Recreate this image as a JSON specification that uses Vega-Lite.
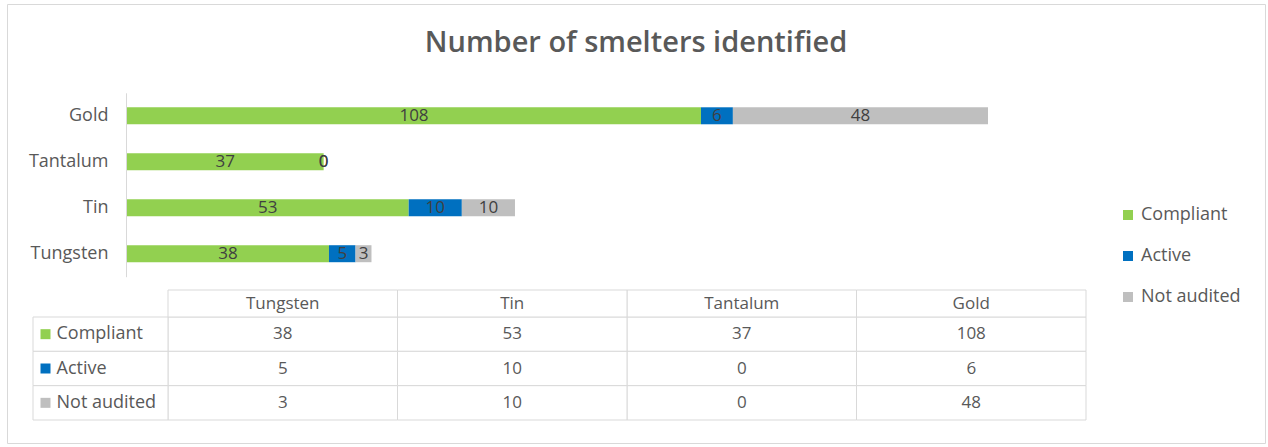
{
  "$schema": "https://vega.github.io/schema/vega-lite/v6.json",
  "width": 1258,
  "height": 439,
  "autosize": {"type": "none"},
  "padding": {"left": 7, "top": 4, "right": 3, "bottom": 4},
  "background": "white",
  "title": {
    "text": "Number of smelters identified",
    "anchor": "middle",
    "offset": -77,
    "baseline": "alphabetic",
    "font": "Open Sans",
    "fontSize": 29,
    "fontWeight": 600,
    "color": "#595959"
  },
  "config": {
    "view": {"stroke": "#d9d9d9"},
    "font": "Open Sans",
    "legend": {
      "orient": "none",
      "legendX": 1112,
      "legendY": 202,
      "symbolType": "square",
      "symbolSize": 100,
      "symbolStrokeWidth": 0,
      "labelFontSize": 18,
      "labelFont": "Open Sans",
      "labelColor": "#595959",
      "rowPadding": 23,
      "labelOffset": 4,
      "padding": 0,
      "symbolOffset": 0
    }
  },
  "data": {
    "values": [
      {"metal": "Gold", "status": "Compliant", "value": 108},
      {"metal": "Gold", "status": "Active", "value": 6},
      {"metal": "Gold", "status": "Not audited", "value": 48},
      {"metal": "Tantalum", "status": "Compliant", "value": 37},
      {"metal": "Tantalum", "status": "Active", "value": 0},
      {"metal": "Tantalum", "status": "Not audited", "value": 0},
      {"metal": "Tin", "status": "Compliant", "value": 53},
      {"metal": "Tin", "status": "Active", "value": 10},
      {"metal": "Tin", "status": "Not audited", "value": 10},
      {"metal": "Tungsten", "status": "Compliant", "value": 38},
      {"metal": "Tungsten", "status": "Active", "value": 5},
      {"metal": "Tungsten", "status": "Not audited", "value": 3}
    ]
  },
  "resolve": {"scale": {"x": "independent", "y": "independent"}},
  "layer": [
    {
      "transform": [
        {"window": [{"op": "row_number", "as": "rank"}], "groupby": ["metal"]}
      ],
      "encoding": {
        "y": {
          "field": "metal",
          "type": "nominal",
          "sort": ["Gold", "Tantalum", "Tin", "Tungsten"],
          "scale": {"range": [88.8, 272.7], "paddingInner": 0, "paddingOuter": 0},
          "axis": {
            "title": null,
            "orient": "left",
            "offset": -119,
            "ticks": false,
            "domainColor": "#d9d9d9",
            "labelFont": "Open Sans",
            "labelFontSize": 18,
            "labelColor": "#595959",
            "labelPadding": 18
          }
        }
      },
      "layer": [
        {
          "mark": {"type": "bar", "size": 17},
          "encoding": {
            "x": {
              "field": "value",
              "type": "quantitative",
              "stack": "zero",
              "scale": {"domain": [0, 162], "range": [120, 981], "nice": false},
              "axis": null
            },
            "order": {"field": "rank", "type": "quantitative"},
            "color": {
              "field": "status",
              "type": "nominal",
              "title": null,
              "sort": ["Compliant", "Active", "Not audited"],
              "scale": {
                "domain": ["Compliant", "Active", "Not audited"],
                "range": ["#92d050", "#0070c0", "#bfbfbf"]
              }
            }
          }
        },
        {
          "transform": [
            {"stack": "value", "groupby": ["metal"], "sort": [{"field": "rank", "order": "ascending"}], "as": ["v0", "v1"]},
            {"fold": ["v0", "v1"], "as": ["edge", "pos"]},
            {"aggregate": [{"op": "mean", "field": "pos", "as": "mid"}], "groupby": ["metal", "status", "value"]}
          ],
          "mark": {"type": "text", "fontSize": 17, "color": "#404040", "align": "center", "baseline": "middle"},
          "encoding": {
            "x": {
              "field": "mid",
              "type": "quantitative",
              "scale": {"domain": [0, 162], "range": [120, 981], "nice": false},
              "axis": null
            },
            "text": {"field": "value", "type": "quantitative"}
          }
        }
      ]
    },
    {
      "encoding": {
        "x": {
          "field": "metal",
          "type": "nominal",
          "sort": ["Tungsten", "Tin", "Tantalum", "Gold"],
          "scale": {"range": [161, 1079], "paddingInner": 0, "paddingOuter": 0},
          "axis": null
        },
        "y": {
          "field": "status",
          "type": "nominal",
          "sort": ["Compliant", "Active", "Not audited"],
          "scale": {"range": [313, 416], "paddingInner": 0, "paddingOuter": 0},
          "axis": null
        }
      },
      "layer": [
        {"mark": {"type": "rect", "fill": "white", "stroke": "#d9d9d9", "strokeWidth": 1}},
        {
          "mark": {"type": "text", "fontSize": 17, "color": "#595959", "baseline": "middle"},
          "encoding": {"text": {"field": "value", "type": "quantitative"}}
        }
      ]
    },
    {
      "transform": [{"filter": "datum.status === 'Compliant'"}],
      "encoding": {
        "x": {
          "field": "metal",
          "type": "nominal",
          "sort": ["Tungsten", "Tin", "Tantalum", "Gold"],
          "scale": {"range": [161, 1079], "paddingInner": 0, "paddingOuter": 0},
          "axis": null
        },
        "y": {
          "datum": "header",
          "type": "nominal",
          "scale": {"range": [286, 313], "paddingInner": 0, "paddingOuter": 0},
          "axis": null
        }
      },
      "layer": [
        {"mark": {"type": "rect", "fill": "white", "stroke": "#d9d9d9", "strokeWidth": 1}},
        {
          "mark": {"type": "text", "fontSize": 17, "color": "#595959", "baseline": "middle"},
          "encoding": {"text": {"field": "metal", "type": "nominal"}}
        }
      ]
    },
    {
      "transform": [{"filter": "datum.metal === 'Gold'"}],
      "encoding": {
        "x": {
          "datum": "label",
          "type": "nominal",
          "scale": {"range": [26, 161], "paddingInner": 0, "paddingOuter": 0},
          "axis": null
        },
        "y": {
          "field": "status",
          "type": "nominal",
          "sort": ["Compliant", "Active", "Not audited"],
          "scale": {"range": [313, 416], "paddingInner": 0, "paddingOuter": 0},
          "axis": null
        }
      },
      "layer": [
        {"mark": {"type": "rect", "fill": "white", "stroke": "#d9d9d9", "strokeWidth": 1}},
        {
          "mark": {"type": "square", "size": 100, "filled": true, "opacity": 1, "xOffset": -55},
          "encoding": {
            "color": {
              "field": "status",
              "type": "nominal",
              "title": null,
              "sort": ["Compliant", "Active", "Not audited"],
              "scale": {
                "domain": ["Compliant", "Active", "Not audited"],
                "range": ["#92d050", "#0070c0", "#bfbfbf"]
              }
            }
          }
        },
        {
          "mark": {"type": "text", "fontSize": 18, "color": "#595959", "align": "left", "baseline": "middle", "dx": -44},
          "encoding": {"text": {"field": "status", "type": "nominal"}}
        }
      ]
    }
  ]
}
